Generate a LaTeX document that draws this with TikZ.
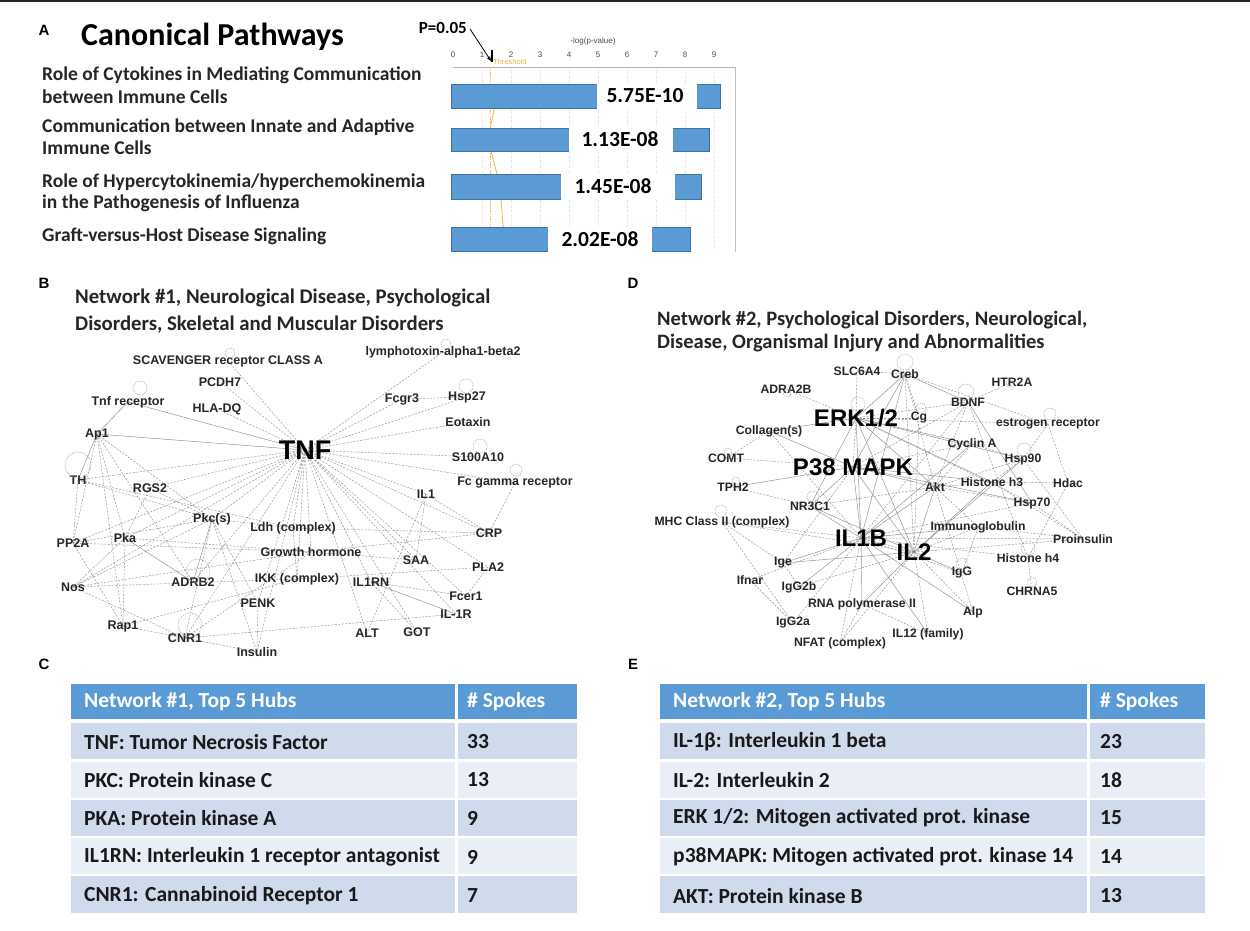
\documentclass[tikz,border=0pt]{standalone}
\usepackage{fontspec}
\setmainfont{Carlito}
\newfontfamily\arial{Liberation Sans}
\usetikzlibrary{backgrounds,arrows.meta}
\definecolor{barblue}{HTML}{5B9BD5}
\definecolor{barline}{HTML}{41719C}
\definecolor{rowa}{HTML}{CFDAED}
\definecolor{rowb}{HTML}{E9EEF7}
\definecolor{thr}{HTML}{F5B544}
\definecolor{edgegray}{HTML}{8E8E8E}
\tikzset{
  nl/.style={font=\arial\bfseries\fontsize{12.5}{13}\selectfont, text=black!85, inner sep=0.5pt},
  nld/.style={font=\arial\bfseries\fontsize{12.2}{13}\selectfont, text=black!85, inner sep=0.5pt},
  hubl/.style={font=\arial\bfseries\fontsize{27}{28}\selectfont, text=black, inner sep=0.5pt},
  hubm/.style={font=\arial\bfseries\fontsize{24}{26}\selectfont, text=black, inner sep=0.5pt},
  ed/.style={draw=edgegray, line width=0.45pt, dash pattern=on 2pt off 1.5pt},
  es/.style={draw=edgegray, line width=0.45pt},
  lp/.style={draw=edgegray!80, line width=0.45pt, dash pattern=on 1.5pt off 1pt},
  panel/.style={font=\arial\bfseries\fontsize{15}{16}\selectfont, inner sep=0pt},
  ttl/.style={font=\bfseries\fontsize{20.8}{22}\selectfont, text=black!85, anchor=west, inner sep=0pt},
  ttld/.style={font=\bfseries\fontsize{20.5}{21}\selectfont, text=black!85, anchor=west, inner sep=0pt},
  path/.style={font=\bfseries\fontsize{19.5}{21}\selectfont, text=black!85, anchor=west, inner sep=0pt},
  pval/.style={font=\bfseries\fontsize{21.5}{22}\selectfont, inner sep=0pt},
  tick/.style={font=\arial\fontsize{8}{9}\selectfont, text=black!70, inner sep=0pt},
  bar/.style={fill=barblue, draw=barline, line width=0.6pt},
  tbl/.style={font=\bfseries\fontsize{21.5}{22}\selectfont, text=black!90, anchor=west, inner sep=0pt},
  tblh/.style={tbl, text=white},
}
\begin{document}
\begin{tikzpicture}[x=1pt,y=-1pt]
\useasboundingbox (0,0) rectangle (1250,930);
\begin{scope}[on background layer]
\fill[white] (0,0) rectangle (1250,930);
\end{scope}
\draw[black!85, line width=2.5pt] (0,1.2) -- (1250,1.2);

% ---------------- Panel A ----------------
\node[panel] (la) at (44,30) {A};
\node[font=\bfseries\fontsize{32}{33}\selectfont, anchor=west, inner sep=0pt] (cp) at (81,37) {Canonical Pathways};
\node[path] (p1a) at (42,75) {Role of Cytokines in Mediating Communication};
\node[path] (p1b) at (42,97) {between Immune Cells};
\node[path] (p2a) at (42,127) {Communication between Innate and Adaptive};
\node[path] (p2b) at (42,148) {Immune Cells};
\node[path] (p3a) at (42,182) {Role of Hypercytokinemia/hyperchemokinemia};
\node[path] (p3b) at (42,203) {in the Pathogenesis of Influenza};
\node[path] (p4a) at (42,236) {Graft-versus-Host Disease Signaling};

% chart frame and grid
\foreach \i in {1,...,9} {\draw[black!15, dash pattern=on 1pt off 1.5pt] (453+29*\i,67) -- (453+29*\i,252);}
\draw[black!30, line width=0.6pt] (453,67) -- (735,67);
\draw[black!25, line width=0.6pt] (735,67) -- (735,252);
\foreach \i in {0,...,9} {\node[tick] (t\i) at (453+29*\i,55) {\i};}
\node[tick] (axl) at (593,41) {-log(p-value)};
% threshold
\draw[thr, dash pattern=on 1.5pt off 1.2pt, line width=0.6pt] (490,67) -- (490,252);
\node[tick, text=thr, anchor=west, font=\arial\fontsize{7.5}{8}\selectfont] (thl) at (493,62) {Threshold};
\draw[thr, line width=0.8pt] (497,96) -- (488,139) -- (500,186) -- (504,238);
% bars
\draw[bar] (451,84) rectangle (720,108);
\draw[bar] (451,128) rectangle (709,151);
\draw[bar] (451,174) rectangle (701,199);
\draw[bar] (451,227) rectangle (690,251);
\fill[white] (597,83) rectangle (697,109);
\fill[white] (569,127) rectangle (673,152);
\fill[white] (561,173) rectangle (675,200);
\fill[white] (548,226) rectangle (652,252);
\node[pval] (v1) at (645,96) {5.75E-10};
\node[pval] (v2) at (620,139.5) {1.13E-08};
\node[pval] (v3) at (613,186.5) {1.45E-08};
\node[pval] (v4) at (600,239) {2.02E-08};
% P=0.05
\node[font=\bfseries\fontsize{17}{18}\selectfont, anchor=east, inner sep=0pt] (p05) at (467,28) {P=0.05};
\coordinate (p05s) at (470,29);
\coordinate (p05end) at (491,61);
\draw[black, line width=1.8pt] (492,50) -- (492,62);
\draw[black, line width=0.8pt, -{Stealth[length=5pt,width=4pt]}] (p05s) -- (p05end);

% ---------------- Panel B ----------------
\node[panel] (lb) at (44,283) {B};
\node[ttl] (tb1) at (75,298) {Network \#1, Neurological Disease, Psychological};
\node[ttl] (tb2) at (75,325) {Disorders, Skeletal and Muscular Disorders};

\node[hubl] (tnf) at (305,450) {TNF};
\node[nl] (scav) at (228,361) {SCAVENGER receptor CLASS A};
\node[nl] (pcdh) at (220,382) {PCDH7};
\node[nl] (tnfr) at (128,402) {Tnf receptor};
\node[nl] (hla) at (217,409) {HLA-DQ};
\node[nl] (ap1) at (97,434) {Ap1};
\node[nl] (th) at (78,480) {TH};
\node[nl] (rgs) at (150,488) {RGS2};
\node[nl] (pkc) at (212,519) {Pkc(s)};
\node[nl] (ldh) at (293,528) {Ldh (complex)};
\node[nl] (pp2a) at (73,543) {PP2A};
\node[nl] (pka) at (125,538) {Pka};
\node[nl] (gh) at (311,552) {Growth hormone};
\node[nl] (adrb) at (193,582) {ADRB2};
\node[nl] (ikk) at (297,579) {IKK (complex)};
\node[nl] (nos) at (73,587) {Nos};
\node[nl] (penk) at (258,603) {PENK};
\node[nl] (rap) at (123,626) {Rap1};
\node[nl] (cnr) at (185,638) {CNR1};
\node[nl] (ins) at (257,652) {Insulin};
\node[nl] (lymph) at (443,352) {lymphotoxin-alpha1-beta2};
\node[nl] (fcgr) at (402,399) {Fcgr3};
\node[nl] (hsp27) at (467,397) {Hsp27};
\node[nl] (eot) at (468,422) {Eotaxin};
\node[nl] (s100) at (478,457) {S100A10};
\node[nl] (fcg) at (515,483) {Fc gamma receptor};
\node[nl] (il1) at (426,494) {IL1};
\node[nl] (crp) at (489,533) {CRP};
\node[nl] (saa) at (416,560) {SAA};
\node[nl] (pla2) at (488,567) {PLA2};
\node[nl] (il1rn) at (371,582) {IL1RN};
\node[nl] (fcer) at (466,596) {Fcer1};
\node[nl] (il1r) at (456,614) {IL-1R};
\node[nl] (alt) at (367,633) {ALT};
\node[nl] (got) at (417,632) {GOT};

\begin{scope}[on background layer]
\foreach \n in {scav,pcdh,hla,th,rgs,pkc,ldh,gh,ikk,penk,ins,cnr,adrb,nos,pp2a,pka,lymph,fcgr,hsp27,eot,s100,fcg,il1,crp,saa,pla2,il1rn,fcer,il1r,alt,got}
  {\draw[ed] (tnf.center) -- (\n.center);}
\draw[es] (tnf.center) -- (tnfr.center);
\draw[es] (tnf.center) -- (ap1.center);
\draw[es] (ap1.center) -- (th.center);
\draw[es] (tnfr.center) -- (ap1.center);
\draw[es] (pka.center) -- (adrb.center);
\draw[es] (pkc.center) -- (adrb.center);
\draw[es] (il1rn.center) -- (il1r.center);
\foreach \a/\b in {ap1/pka,ap1/pp2a,ap1/pkc,ap1/adrb,ap1/rap,th/pkc,th/pp2a,th/ldh,rgs/pka,rgs/pkc,pp2a/pkc,pp2a/gh,pp2a/rap,pka/rap,pka/nos,pka/gh,pkc/penk,pkc/ins,pkc/cnr,pkc/ldh,pkc/nos,nos/cnr,nos/ikk,nos/gh,rap/cnr,rap/ikk,cnr/ins,cnr/gh,il1/crp,il1/saa,il1/alt,fcg/crp,crp/ldh,crp/gh,pla2/fcer,pla2/ikk,il1rn/got,il1rn/fcer,fcgr/hsp27,saa/gh,cnr/il1r,ldh/ikk,penk/ins}
  {\draw[ed] (\a.center) -- (\b.center);}
\end{scope}
% self loops B
\draw[lp] (140,388) circle[radius=7pt];
\draw[lp] (78,465) circle[radius=13pt];
\draw[lp] (198,571) circle[radius=12pt];
\draw[lp] (190,625) circle[radius=12pt];
\draw[lp] (480,446) circle[radius=7pt];
\draw[lp] (466,386) circle[radius=7pt];
\draw[lp] (516,470) circle[radius=6pt];
\draw[lp] (446,344) circle[radius=5pt];
\draw[lp] (230,353) circle[radius=5pt];

% ---------------- Panel D ----------------
\node[panel] (ld) at (633,283) {D};
\node[ttld] (td1) at (657,320) {Network \#2, Psychological Disorders, Neurological,};
\node[ttld] (td2) at (657,343) {Disease, Organismal Injury and Abnormalities};

\node[nld] (slc) at (857,371) {SLC6A4};
\node[nld] (creb) at (905,374) {Creb};
\node[nld] (adra) at (786,389) {ADRA2B};
\node[hubm] (erk) at (856,418) {ERK1/2};
\node[nld] (cg) at (919,418) {Cg};
\node[nld] (coll) at (769,431) {Collagen(s)};
\node[nld] (comt) at (726,458) {COMT};
\node[hubm] (p38) at (853,467) {P38 MAPK};
\node[nld] (tph) at (733,487) {TPH2};
\node[nld] (nr3) at (810,506) {NR3C1};
\node[nld] (mhc) at (722,522) {MHC Class II (complex)};
\node[hubm] (il1b) at (861,538) {IL1B};
\node[hubm] (il2) at (914,552) {IL2};
\node[nld] (ige) at (783,563) {Ige};
\node[nld] (ifnar) at (750,580) {Ifnar};
\node[nld] (igg2b) at (799,587) {IgG2b};
\node[nld] (rna) at (862,604) {RNA polymerase II};
\node[nld] (igg2a) at (793,623) {IgG2a};
\node[nld] (nfat) at (840,643) {NFAT (complex)};
\node[nld] (il12) at (928,634) {IL12 (family)};
\node[nld] (htr) at (1012,382) {HTR2A};
\node[nld] (bdnf) at (968,402) {BDNF};
\node[nld] (estr) at (1048,424) {estrogen receptor};
\node[nld] (cyc) at (972,444) {Cyclin A};
\node[nld] (hsp90) at (1023,459) {Hsp90};
\node[nld] (akt) at (935,487) {Akt};
\node[nld] (h3) at (992,482) {Histone h3};
\node[nld] (hdac) at (1068,483) {Hdac};
\node[nld] (hsp70) at (1032,503) {Hsp70};
\node[nld] (imm) at (978,527) {Immunoglobulin};
\node[nld] (proins) at (1083,539) {Proinsulin};
\node[nld] (h4) at (1028,558) {Histone h4};
\node[nld] (igg) at (962,573) {IgG};
\node[nld] (chrna) at (1032,591) {CHRNA5};
\node[nld] (alp) at (973,612) {Alp};

\begin{scope}[on background layer]
\foreach \n in {erk,p38,nr3,ige,igg2b,rna,il12,alp,imm,akt,cyc,creb}
  {\draw[es] (il1b.center) -- (\n.center);}
\foreach \n in {mhc,ifnar,igg2a,nfat,igg,h4,proins,hsp70,bdnf,coll,il2}
  {\draw[ed] (il1b.center) -- (\n.center);}
\foreach \n in {erk,p38,akt,nr3,ige,rna,igg,h3,hsp90}
  {\draw[es] (il2.center) -- (\n.center);}
\foreach \n in {igg2b,nfat,il12,alp,imm,creb,cg,mhc,proins}
  {\draw[ed] (il2.center) -- (\n.center);}
\foreach \n in {creb,coll,nr3,akt,cyc,h3,hsp90}
  {\draw[es] (erk.center) -- (\n.center);}
\foreach \n in {slc,cg,bdnf,estr,hsp70,adra,p38}
  {\draw[ed] (erk.center) -- (\n.center);}
\foreach \n in {creb,coll,nr3,tph,akt,h3,hsp70}
  {\draw[es] (p38.center) -- (\n.center);}
\foreach \n in {bdnf,cyc,ige,comt}
  {\draw[ed] (p38.center) -- (\n.center);}
\foreach \n in {creb,bdnf,cyc,hsp90,h3,hsp70,nr3,imm,alp}
  {\draw[ed] (akt.center) -- (\n.center);}
\foreach \a/\b in {htr/bdnf,estr/hdac,estr/hsp90,hdac/h3,hdac/h4,h4/chrna,proins/hsp70,h3/proins,mhc/igg2a,ifnar/igg2a,cg/creb,coll/comt,tph/nr3,bdnf/h4,cyc/hsp90,h3/hsp90,slc/creb,imm/proins,rna/nfat,il12/rna,igg/imm,ige/igg2b,mhc/ige,hsp90/proins,creb/estr}
  {\draw[ed] (\a.center) -- (\b.center);}
\draw[es] (creb.center) -- (bdnf.center);
\draw[es] (bdnf.center) -- (hsp70.center);
\end{scope}
% self loops D
\draw[lp] (905,362) circle[radius=8pt];
\draw[lp] (858,404) circle[radius=7pt];
\draw[lp] (787,393) circle[radius=4pt];
\draw[lp] (728,452) circle[radius=4pt];
\draw[lp] (736,481) circle[radius=4pt];
\draw[lp] (721,511) circle[radius=6pt];
\draw[lp] (813,497) circle[radius=6pt];
\draw[lp] (966,392) circle[radius=8pt];
\draw[lp] (1010,383) circle[radius=4pt];
\draw[lp] (1050,414) circle[radius=6pt];
\draw[lp] (1024,450) circle[radius=7pt];
\draw[lp] (935,480) circle[radius=7pt];
\draw[lp] (1028,548) circle[radius=7pt];
\draw[lp] (1032,582) circle[radius=5pt];
\draw[lp] (962,564) circle[radius=6pt];
\draw[lp] (921,408) circle[radius=5pt];

% ---------------- Panel C ----------------
\node[panel] (lc) at (44,664) {C};
\fill[barblue] (71,684) rectangle (577,719);
\fill[rowa] (71,723) rectangle (577,759);
\fill[rowb] (71,762) rectangle (577,798);
\fill[rowa] (71,800) rectangle (577,836);
\fill[rowb] (71,838) rectangle (577,874);
\fill[rowa] (71,876) rectangle (577,913);
\fill[white] (454.5,684) rectangle (457.5,913);
\node[tblh] (ch1) at (84,702) {Network \#1, Top 5 Hubs};
\node[tblh] (ch2) at (467,702) {\# Spokes};
\node[tbl] (c1) at (84,742) {TNF: Tumor Necrosis Factor};
\node[tbl] (c1n) at (467,742) {33};
\node[tbl] (c2) at (84,780) {PKC: Protein kinase C};
\node[tbl] (c2n) at (467,780) {13};
\node[tbl] (c3) at (84,818) {PKA: Protein kinase A};
\node[tbl] (c3n) at (467,818) {9};
\node[tbl] (c4) at (84,857) {IL1RN: Interleukin 1 receptor antagonist};
\node[tbl] (c4n) at (467,857) {9};
\node[tbl] (c5) at (84,896) {CNR1: Cannabinoid Receptor 1};
\node[tbl] (c5n) at (467,896) {7};

% ---------------- Panel E ----------------
\node[panel] (le) at (633,664) {E};
\fill[barblue] (660,684) rectangle (1205,719);
\fill[rowa] (660,723) rectangle (1205,759);
\fill[rowb] (660,762) rectangle (1205,798);
\fill[rowa] (660,800) rectangle (1205,836);
\fill[rowb] (660,838) rectangle (1205,874);
\fill[rowa] (660,876) rectangle (1205,913);
\fill[white] (1086.5,684) rectangle (1089.5,913);
\node[tblh] (eh1) at (673,702) {Network \#2, Top 5 Hubs};
\node[tblh] (eh2) at (1100,702) {\# Spokes};
\node[tbl] (e1) at (673,742) {IL-1β: Interleukin 1 beta};
\node[tbl] (e1n) at (1100,742) {23};
\node[tbl] (e2) at (673,780) {IL-2: Interleukin 2};
\node[tbl] (e2n) at (1100,780) {18};
\node[tbl] (e3) at (673,818) {ERK 1/2: Mitogen activated prot. kinase};
\node[tbl] (e3n) at (1100,818) {15};
\node[tbl] (e4) at (673,857) {p38MAPK: Mitogen activated prot. kinase 14};
\node[tbl] (e4n) at (1100,857) {14};
\node[tbl] (e5) at (673,896) {AKT: Protein kinase B};
\node[tbl] (e5n) at (1100,896) {13};
\end{tikzpicture}
\end{document}
